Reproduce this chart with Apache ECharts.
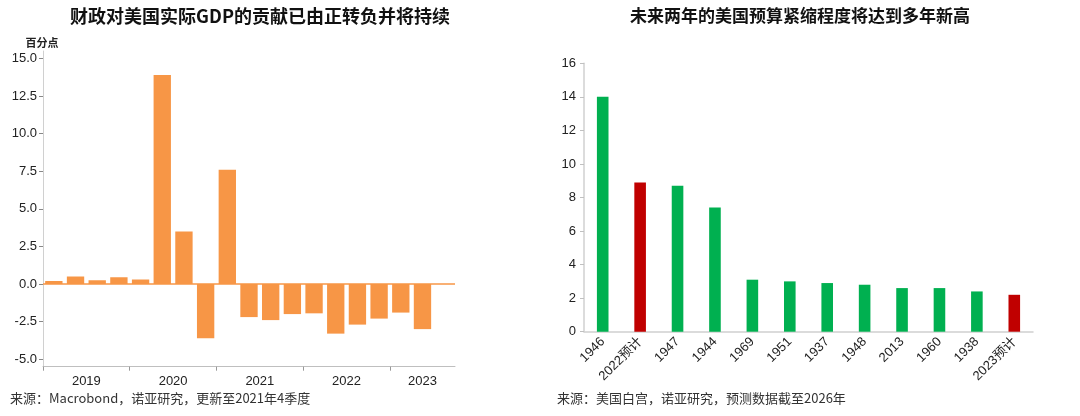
<!DOCTYPE html>
<html>
<head>
<meta charset="utf-8">
<script src="https://cdn.jsdelivr.net/npm/echarts@6/dist/echarts.min.js"></script>
<style>
html,body{margin:0;padding:0;background:#fff;}
#c{width:1080px;height:416px;}
</style>
</head>
<body>
<div id="c"></div>
<script>
// ---- Left chart data ----
const leftTitle = '财政对美国实际GDP的贡献已由正转负并将持续';
const leftUnit = '百分点';
const leftSource = '来源：Macrobond，诺亚研究，更新至2021年4季度';
const quarters = ['2019Q1','2019Q2','2019Q3','2019Q4','2020Q1','2020Q2','2020Q3','2020Q4',
  '2021Q1','2021Q2','2021Q3','2021Q4','2022Q1','2022Q2','2022Q3','2022Q4','2023Q1','2023Q2','2023Q3'];
const fiscalContribution = [0.2,0.5,0.25,0.45,0.3,13.9,3.5,-3.6,7.6,-2.2,-2.4,-2.0,-1.95,-3.3,-2.7,-2.3,-1.9,-3.0,null];
const years = ['2019','2020','2021','2022','2023'];
const quartersPerYear = [4,4,4,4,3];
const leftYTicks = [-5,-2.5,0,2.5,5,7.5,10,12.5,15];

// ---- Right chart data ----
const rightTitle = '未来两年的美国预算紧缩程度将达到多年新高';
const rightSource = '来源：美国白宫，诺亚研究，预测数据截至2026年';
const rightCategories = ['1946','2022预计','1947','1944','1969','1951','1937','1948','2013','1960','1938','2023预计'];
const austerity = [14.0,8.9,8.7,7.4,3.1,3.0,2.9,2.8,2.6,2.6,2.4,2.2];
const isForecast = [false,true,false,false,false,false,false,false,false,false,false,true];

const ORANGE = '#F79646', GREEN = '#00B050', RED = '#C00000';
const LATIN = '"Liberation Sans", Arial, "Noto Sans CJK SC", sans-serif';
const CJK = '"Noto Sans CJK SC", sans-serif';

// year boundary / center positions derived from quarter counts
const yearStarts = [], yearCenters = [];
let acc = 0;
quartersPerYear.forEach(n => { yearStarts.push(acc); yearCenters.push(acc + n / 2); acc += n; });
const totalSlots = acc;

const chart = echarts.init(document.getElementById('c'));
chart.setOption({
  animation: false,
  backgroundColor: '#fff',
  textStyle: { fontFamily: LATIN },
  graphic: [
    { type: 'text', x: 260, y: 16, style: { text: leftTitle, font: 'bold 18px ' + CJK, fill: '#111', textAlign: 'center', textVerticalAlign: 'middle' } },
    { type: 'text', x: 800, y: 16, style: { text: rightTitle, font: 'bold 17px ' + CJK, fill: '#111', textAlign: 'center', textVerticalAlign: 'middle' } },
    { type: 'text', x: 42, y: 43, style: { text: leftUnit, font: 'bold 11px ' + CJK, fill: '#222', textAlign: 'center', textVerticalAlign: 'middle' } },
    { type: 'text', x: 10, y: 398, style: { text: leftSource, font: '13px ' + CJK, fill: '#333', textAlign: 'left', textVerticalAlign: 'middle' } },
    { type: 'text', x: 557, y: 398, style: { text: rightSource, font: '13px ' + CJK, fill: '#333', textAlign: 'left', textVerticalAlign: 'middle' } }
  ],
  grid: [
    { left: 43, right: 625, top: 51, bottom: 49.3 },
    { left: 584, right: 47, top: 63.3, bottom: 84.3 }
  ],
  xAxis: [
    { type: 'category', gridIndex: 0, data: quarters, show: false },
    { type: 'value', gridIndex: 0, position: 'bottom', min: 0, max: totalSlots,
      axisLine: { show: true, onZero: false, lineStyle: { color: '#bfbfbf' } },
      axisTick: { show: true, length: 4, lineStyle: { color: '#999' }, customValues: yearStarts },
      axisLabel: { customValues: yearCenters, formatter: v => years[yearCenters.indexOf(v)] || '',
        color: '#222', fontSize: 13, margin: 8, fontFamily: LATIN },
      splitLine: { show: false } },
    { type: 'category', gridIndex: 1, data: rightCategories,
      axisLine: { lineStyle: { color: '#d0d0d0', width: 1.5 } },
      axisTick: { show: false },
      axisLabel: { rotate: 45, color: '#222', fontSize: 13, margin: 8, interval: 0, fontFamily: LATIN } }
  ],
  yAxis: [
    { type: 'value', gridIndex: 0, min: -5.5, max: 15.5,
      axisLine: { show: true, lineStyle: { color: '#d0d0d0' } },
      axisTick: { show: true, length: 4, inside: false, lineStyle: { color: '#888' }, customValues: leftYTicks },
      axisLabel: { customValues: leftYTicks, formatter: v => v.toFixed(1), color: '#222', fontSize: 13, margin: 6 },
      splitLine: { show: false } },
    { type: 'value', gridIndex: 1, min: 0, max: 16, interval: 2,
      axisLine: { show: true, lineStyle: { color: '#d0d0d0', width: 1.5 } },
      axisTick: { show: true, length: 4, lineStyle: { color: '#c0c0c0' } },
      axisLabel: { color: '#222', fontSize: 13, margin: 8 },
      splitLine: { show: false } }
  ],
  series: [
    { type: 'bar', xAxisIndex: 0, yAxisIndex: 0, data: fiscalContribution,
      barCategoryGap: '20%', itemStyle: { color: ORANGE },
      markLine: { silent: true, symbol: 'none', label: { show: false },
        lineStyle: { color: ORANGE, type: 'solid', width: 1.5 }, data: [{ yAxis: 0 }] } },
    { type: 'bar', xAxisIndex: 2, yAxisIndex: 1,
      data: austerity.map((v, i) => ({ value: v, itemStyle: { color: isForecast[i] ? RED : GREEN } })),
      barWidth: '31%' }
  ]
});
</script>
</body>
</html>
